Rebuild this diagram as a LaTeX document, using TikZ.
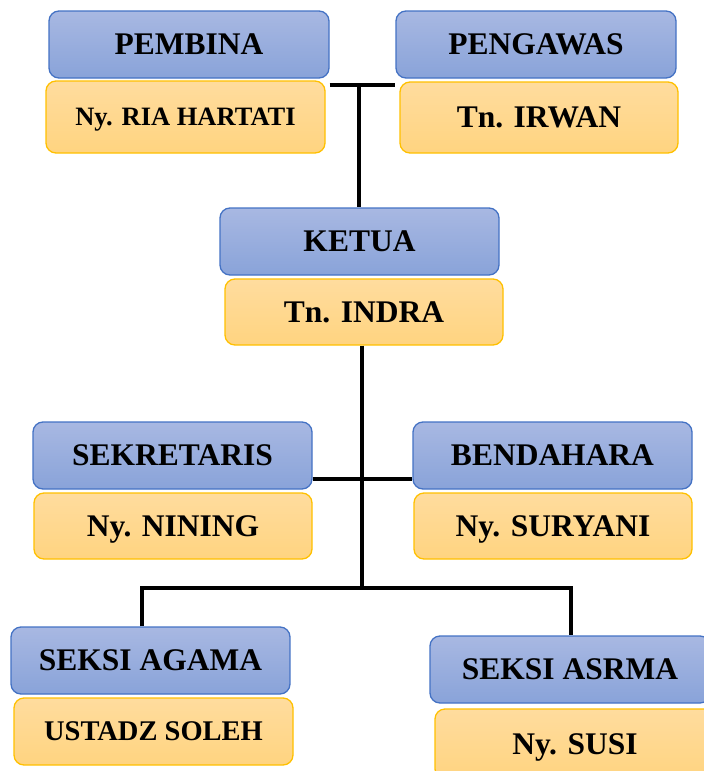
\documentclass[tikz,border=0pt]{standalone}
\usepackage{fontspec}
\setmainfont{Liberation Serif}
\usepackage{tikz}
\usetikzlibrary{positioning,calc}
\definecolor{JabatanTop}{RGB}{168,184,226}
\definecolor{JabatanBot}{RGB}{137,163,217}
\definecolor{JabatanLine}{RGB}{68,114,196}
\definecolor{NamaTop}{RGB}{255,220,158}
\definecolor{NamaBot}{RGB}{255,212,128}
\definecolor{NamaLine}{RGB}{255,192,0}

\tikzset{
  jabatan/.style={draw=JabatanLine, line width=1.3pt, rounded corners=10pt,
    top color=JabatanTop, bottom color=JabatanBot, minimum width=279pt,
    minimum height=67pt, inner sep=0pt, text depth=0pt,
    font=\fontsize{31.5}{36}\selectfont\bfseries},
  nama/.style={draw=NamaLine, line width=1.3pt, rounded corners=10pt,
    top color=NamaTop, bottom color=NamaBot, minimum width=278pt,
    minimum height=67pt, inner sep=0pt, text depth=0pt,
    font=\fontsize{31.5}{36}\selectfont\bfseries},
  garis/.style={line width=3.5pt, black}
}

\begin{document}
\begin{tikzpicture}[x=1pt, y=-1pt]
        \useasboundingbox (0,0) rectangle (704,771);
        \clip (0,0) rectangle (704,771);
        % pembina & pengawas
        \node[jabatan, minimum width=280pt] (pembina) at (189,44.5) {PEMBINA};
        \node[nama, minimum width=279pt, minimum height=72pt, font=\fontsize{26.5}{30}\selectfont\bfseries] (ria) at (185.5,117) {Ny. RIA HARTATI};
        \node[jabatan, minimum width=280pt] (pengawas) at (536,44.5) {PENGAWAS};
        \node[nama, minimum height=71pt] (irwan) at (539,117.5) {Tn. IRWAN};
        % ketua
        \node[jabatan] (ketua) at (359.5,241.5) {KETUA};
        \node[nama, minimum height=66pt] (indra) at (364,312) {Tn. INDRA};
        % sekretaris & bendahara
        \node[jabatan] (sekretaris) at (172.5,455.5) {SEKRETARIS};
        \node[nama, minimum height=66pt] (nining) at (173,526) {Ny. NINING};
        \node[jabatan] (bendahara) at (552.5,455.5) {BENDAHARA};
        \node[nama, minimum height=66pt] (suryani) at (553,526) {Ny. SURYANI};
        % seksi
        \node[jabatan] (agama) at (150.5,660.5) {SEKSI AGAMA};
        \node[nama, minimum width=279pt, font=\fontsize{28.5}{32}\selectfont\bfseries] (soleh) at (153.5,731.5) {USTADZ SOLEH};
        \node[jabatan, minimum width=280pt] (asrma) at (570,669.5) {SEKSI ASRMA};
        \node[nama, minimum width=280pt, minimum height=70pt] (susi) at (575,744) {Ny. SUSI};

        % garis
        \coordinate (atas) at (359,85);
        \coordinate (tengah) at (362,479);
        \coordinate (bawah) at (362,588);
        \coordinate (bawahkiri) at (142,588);
        \coordinate (bawahkanan) at (571,588);
        \draw[garis] (atas -| pembina.east) -- (atas -| pengawas.west);
        \draw[garis] (atas) -- (atas |- ketua.north);
        \draw[garis] (indra.south -| bawah) -- (bawah);
        \draw[garis] (tengah -| sekretaris.east) -- (tengah -| bendahara.west);
        \draw[garis] (bawahkiri |- agama.north) -- (bawahkiri) -- (bawahkanan) -- (bawahkanan |- asrma.north);
      \end{tikzpicture}
\end{document}
